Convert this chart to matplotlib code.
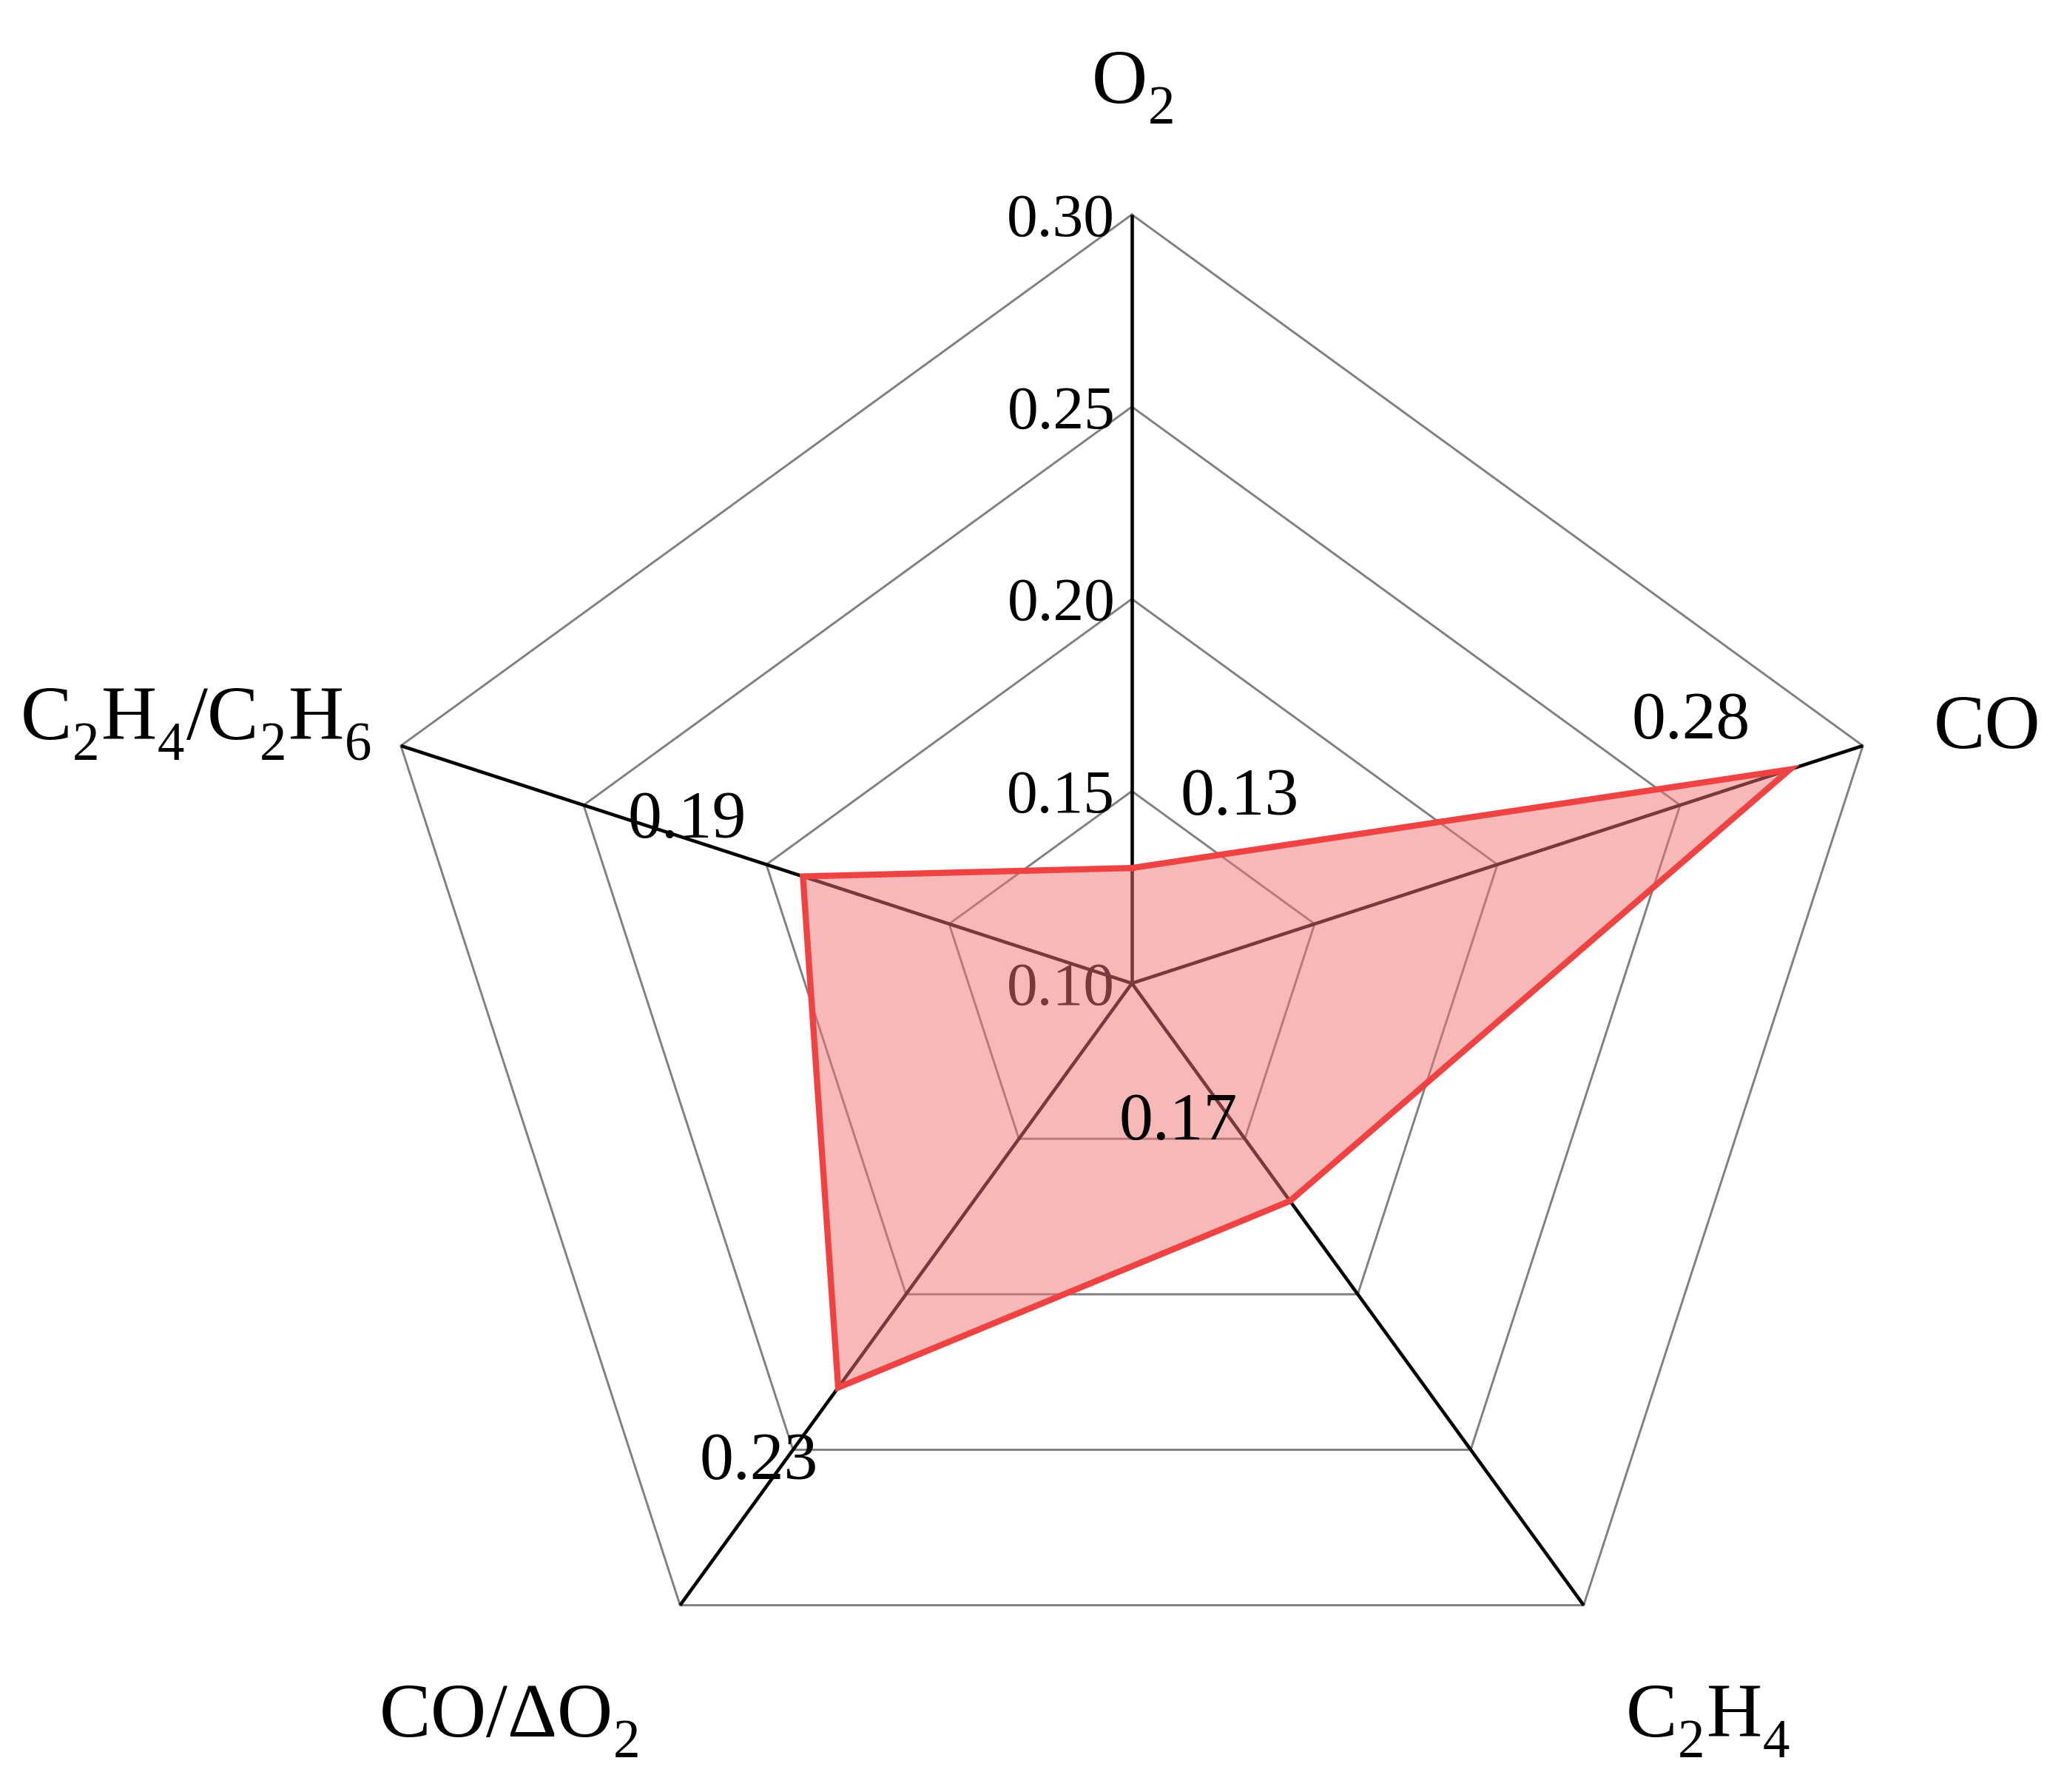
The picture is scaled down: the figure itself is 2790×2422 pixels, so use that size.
import numpy as np
import matplotlib
matplotlib.use('Agg')
import matplotlib.pyplot as plt

# lower subscripts a bit, like the reference typesetting
try:
    from matplotlib import _mathtext as _mt
    _mt.FontConstantsBase.sub1 = 0.6
    _mt.FontConstantsBase.subdrop = 0.6
except Exception:
    pass

# ---------------- data ----------------
categories = ['O$_2$', 'CO', 'C$_2$H$_4$', 'CO/ΔO$_2$', 'C$_2$H$_4$/C$_2$H$_6$']
values = [0.13, 0.28, 0.17, 0.23, 0.19]
value_labels = ['0.13', '0.28', '0.17', '0.23', '0.19']
tick_values = [0.10, 0.15, 0.20, 0.25, 0.30]
tick_labels = ['0.10', '0.15', '0.20', '0.25', '0.30']
r_min, r_max = 0.10, 0.30

# ---------------- style ----------------
plt.rcParams['font.family'] = ['Liberation Serif', 'DejaVu Serif']
plt.rcParams['mathtext.fontset'] = 'custom'
plt.rcParams['mathtext.rm'] = 'Liberation Serif'
plt.rcParams['mathtext.it'] = 'Liberation Serif:italic'
plt.rcParams['mathtext.bf'] = 'Liberation Serif:bold'

W, H, DPI = 2790, 2422, 300
fig = plt.figure(figsize=(W / DPI, H / DPI), dpi=DPI)
ax = fig.add_axes([0, 0, 1, 1])
cx, cy, R = 1530, 1329, 1039  # centre and outer radius in pixels
ax.set_xlim(-cx / R, (W - cx) / R)
ax.set_ylim(-(H - cy) / R, cy / R)
ax.axis('off')

n = len(categories)
angles = np.pi / 2 - 2 * np.pi * np.arange(n) / n


def to_xy(v, ang):
    r = (np.asarray(v, dtype=float) - r_min) / (r_max - r_min)
    return r * np.cos(ang), r * np.sin(ang)


# grid pentagons
for t in tick_values[1:]:
    gx, gy = to_xy([t] * n, angles)
    ax.plot(np.append(gx, gx[0]), np.append(gy, gy[0]), color='#808080',
            lw=0.7, zorder=1, solid_joinstyle='miter')

# spokes
for a in angles:
    sx, sy = to_xy([r_min, r_max], np.array([a, a]))
    ax.plot(sx, sy, color='black', lw=1.1, zorder=2, solid_capstyle='butt')

# radial tick labels along O2 axis
for t, lab in zip(tick_values, tick_labels):
    _, ty = to_xy(t, np.pi / 2)
    ax.text(-0.022, ty - 0.0275, lab, ha='right', va='baseline', fontsize=20,
            zorder=3)

# data polygon
dx, dy = to_xy(values, angles)
dxc, dyc = np.append(dx, dx[0]), np.append(dy, dy[0])
ax.fill(dxc, dyc, color='#F17373', alpha=0.5, lw=0, zorder=4)
ax.plot(dxc, dyc, color='#EF4242', lw=2.0, zorder=5, solid_joinstyle='miter')

# value labels
value_pos = [(0.140, 0.219), (0.727, 0.319), (0.060, -0.203),
             (-0.485, -0.645), (-0.579, 0.190)]
for (px, py), lab in zip(value_pos, value_labels):
    ax.text(px, py, lab, ha='center', va='baseline', fontsize=22, zorder=6)

# category labels
cat_pos = [(0.0, 1.145), (1.113, 0.306), (0.749, -0.980),
           (-0.811, -0.980), (-1.218, 0.317)]
for (px, py), lab in zip(cat_pos, categories):
    ax.text(px, py, lab, ha='center', va='baseline', fontsize=25, zorder=6)

fig.savefig('out.png', dpi=DPI)
